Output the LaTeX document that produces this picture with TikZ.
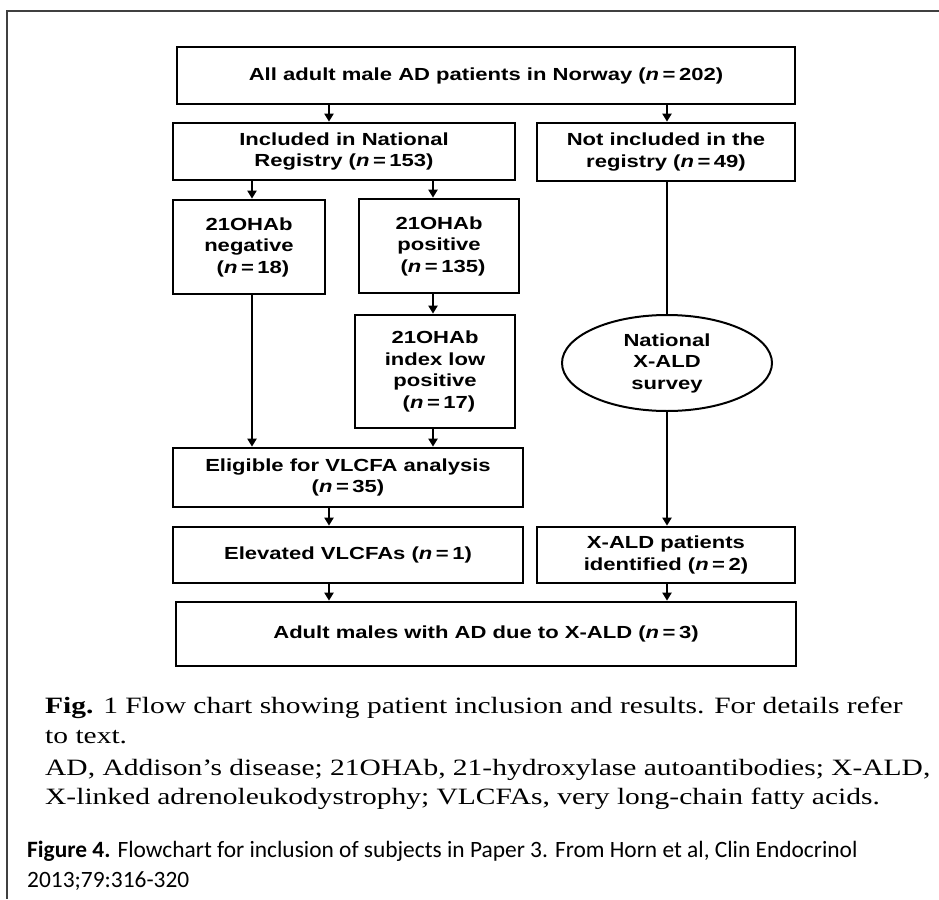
\documentclass[tikz,border=0pt]{standalone}
\usepackage{fontspec}
\setmainfont{Liberation Serif}[FakeStretch=1.26]
\newfontfamily\chartfont{Liberation Sans}[FakeStretch=1.26]
\newfontfamily\wordfont{Carlito}
\usetikzlibrary{arrows.meta,shapes.geometric}

\begin{document}
\begin{tikzpicture}[x=1pt,y=-1pt,
    box/.style={draw, line width=2.7pt, align=center, inner sep=0pt,
      font=\fontsize{17.5}{21.5}\chartfont\bfseries},
    arr/.style={line width=2pt, -{Triangle[width=9pt,length=8pt]}},
    link/.style={line width=2pt}]
    % Canvas and frame
    \useasboundingbox (0,0) rectangle (939,899);
    \fill[white] (0,0) rectangle (939,899);
    \draw[line width=2pt, black!75] (939,11) -- (7,11) -- (7,899);

    % Columns for the connectors
    \coordinate (colA) at (329,0);
    \coordinate (colB) at (667,0);
    \coordinate (colN) at (252,0);
    \coordinate (colP) at (433,0);

    % Boxes
    \node[box, minimum width=618, minimum height=57] (all) at (486,75.5)
        {All adult male AD patients in Norway (\textit{n}\kern.2em=\kern.2em202)};
    \node[box, minimum width=342, minimum height=57] (incl) at (344,151.5)
        {Included in National\\Registry (\textit{n}\kern.2em=\kern.2em153)};
    \node[box, minimum width=258, minimum height=58] (notincl) at (666,152)
        {Not included in the\\registry (\textit{n}\kern.2em=\kern.2em49)};
    \node[box, minimum width=152, minimum height=94] (neg) at (249,247)
        {21OHAb\\negative\\\hspace*{8pt}(\textit{n}\kern.2em=\kern.2em18)};
    \node[box, minimum width=160, minimum height=94] (pos) at (439,246)
        {21OHAb\\positive\\\hspace*{8pt}(\textit{n}\kern.2em=\kern.2em135)};
    \node[box, minimum width=160, minimum height=113] (low) at (435,371.5)
        {21OHAb\\index low\\positive\\\hspace*{8pt}(\textit{n}\kern.2em=\kern.2em17)};
    \node[box, ellipse, line width=2pt, minimum width=210, minimum height=96] (survey) at (667,363)
        {National\\X-ALD\\survey};
    \node[box, minimum width=350, minimum height=59] (elig) at (348,477.5)
        {Eligible for VLCFA analysis\\(\textit{n}\kern.2em=\kern.2em35)};
    \node[box, minimum width=350, minimum height=56] (elev) at (348,555)
        {Elevated VLCFAs (\textit{n}\kern.2em=\kern.2em1)};
    \node[box, minimum width=258, minimum height=56] (xald) at (666,555)
        {X-ALD patients\\identified (\textit{n}\kern.2em=\kern.2em2)};
    \node[box, minimum width=620, minimum height=64] (final) at (486,634)
        {Adult males with AD due to X-ALD (\textit{n}\kern.2em=\kern.2em3)};

    % Arrows
    \draw[arr] (all.south -| colA) -- (incl.north -| colA);
    \draw[arr] (all.south -| colB) -- (notincl.north -| colB);
    \draw[arr] (incl.south -| colN) -- (neg.north -| colN);
    \draw[arr] (incl.south -| colP) -- (pos.north -| colP);
    \draw[arr] (pos.south -| colP) -- (low.north -| colP);
    \draw[arr] (neg.south -| colN) -- (elig.north -| colN);
    \draw[arr] (low.south -| colP) -- (elig.north -| colP);
    \draw[link] (notincl.south -| colB) -- (survey.north);
    \draw[arr] (survey.south) -- (xald.north -| colB);
    \draw[arr] (elig.south -| colA) -- (elev.north -| colA);
    \draw[arr] (elev.south -| colA) -- (final.north -| colA);
    \draw[arr] (xald.south -| colB) -- (final.north -| colB);

    % Captions
    \begin{scope}[every node/.style={anchor=base west, inner sep=0pt, font=\fontsize{23.4}{31}\selectfont}]
    \node (cap1) at (45,713) {\textbf{Fig.} 1 Flow chart showing patient inclusion and results. For details refer};
    \node (cap2) at (45,743) {to text.};
    \node (cap3) at (45,775) {AD, Addison’s disease; 21OHAb, 21-hydroxylase autoantibodies; X-ALD,};
    \node (cap4) at (45,804) {X-linked adrenoleukodystrophy; VLCFAs, very long-chain fatty acids.};
    \end{scope}
    \begin{scope}[every node/.style={anchor=base west, inner sep=0pt, font=\fontsize{23.4}{30}\wordfont}]
    \node (fig4) at (27,857) {\textbf{Figure 4.} Flowchart for inclusion of subjects in Paper 3. From Horn et al, Clin Endocrinol};
    \node (year) at (27,887) {2013;79:316-320};
    \end{scope}
\end{tikzpicture}
\end{document}
